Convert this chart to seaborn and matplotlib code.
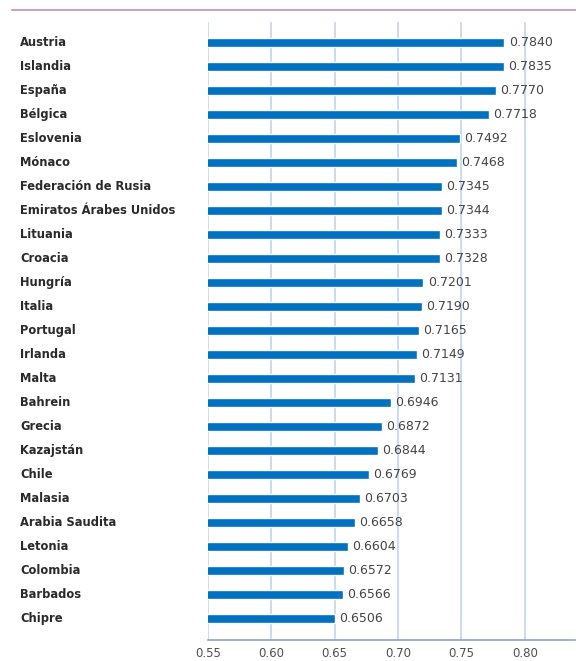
import matplotlib
matplotlib.use("Agg")
import matplotlib.pyplot as plt
import matplotlib.transforms as mtransforms
import seaborn as sns
import pandas as pd
from matplotlib.lines import Line2D

# === Datos
paises = ["Austria", "Islandia", "España", "Bélgica", "Eslovenia", "Mónaco",
          "Federación de Rusia", "Emiratos Árabes Unidos", "Lituania", "Croacia",
          "Hungría", "Italia", "Portugal", "Irlanda", "Malta", "Bahrein", "Grecia",
          "Kazajstán", "Chile", "Malasia", "Arabia Saudita", "Letonia", "Colombia",
          "Barbados", "Chipre"]
valores = [0.7840, 0.7835, 0.7770, 0.7718, 0.7492, 0.7468, 0.7345, 0.7344,
           0.7333, 0.7328, 0.7201, 0.7190, 0.7165, 0.7149, 0.7131, 0.6946,
           0.6872, 0.6844, 0.6769, 0.6703, 0.6658, 0.6604, 0.6572, 0.6566, 0.6506]
ticks_x = [0.55, 0.60, 0.65, 0.70, 0.75, 0.80]

df = pd.DataFrame({"Pais": paises, "Valor": valores})

sns.set_style("white")
plt.rcParams["font.family"] = ["DejaVu Sans"]

fig = plt.figure(figsize=(5.76, 6.61), dpi=100)
ax = fig.add_axes([0.361, 0.032, 0.638, 0.935])

sns.barplot(data=df, x="Valor", y="Pais", orient="h", color="#0070C0",
            width=0.36, saturation=1, ax=ax, zorder=3)

ax.set_xlim(0.55, 0.84)
ax.set_ylim(len(paises) - 0.1, -0.85)
ax.set_xticks(ticks_x)
ax.set_xticklabels([f"{t:.2f}" for t in ticks_x], fontsize=8.5, color="#505050")
ax.tick_params(axis="x", direction="in", length=4, width=1.2, color="#333333", pad=5)
ax.set_yticks([])
ax.set_xlabel("")
ax.set_ylabel("")

for t in ticks_x:
    ax.axvline(t, color="#C5D9F1", lw=1.3, zorder=1)

for s in ["top", "right", "left"]:
    ax.spines[s].set_visible(False)
ax.spines["bottom"].set_color("#8EA4BE")
ax.spines["bottom"].set_linewidth(1.2)

# Etiquetas de valor
ax.bar_label(ax.containers[0], labels=[f"{v:.4f}" for v in valores],
             padding=3, fontsize=9, color="#454545", zorder=4)

# Nombres de países alineados a la izquierda (x en coords de figura)
trans = mtransforms.blended_transform_factory(fig.transFigure, ax.transData)
for i, p in enumerate(paises):
    ax.text(20 / 576, i, p, transform=trans, fontsize=8.3,
            ha="left", va="center", color="#2a2a2a", fontweight="bold")

# Línea morada superior
fig.add_artist(Line2D([12 / 576, 1.0], [1 - 10 / 661, 1 - 10 / 661],
                      color="#C8A2C8", lw=1.5, transform=fig.transFigure))

fig.savefig("out.png", dpi=100)
